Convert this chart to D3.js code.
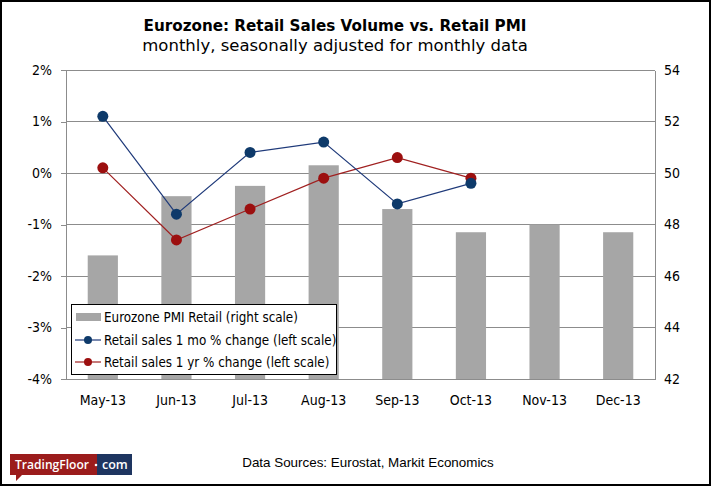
<!DOCTYPE html>
<html><head><meta charset="utf-8">
<script src="https://cdn.jsdelivr.net/npm/d3@7"></script>
<style>body{margin:0;background:#fff}svg{display:block}</style>
</head><body>
<script>
const categories = ["May-13","Jun-13","Jul-13","Aug-13","Sep-13","Oct-13","Nov-13","Dec-13"];
const pmiRetail = [46.8, 49.1, 49.5, 50.3, 48.6, 47.7, 48.0, 47.7];
const moChange = [1.1, -0.8, 0.4, 0.6, -0.6, -0.2, null, null];
const yrChange = [0.1, -1.3, -0.7, -0.1, 0.3, -0.1, null, null];
const leftTicks = [2, 1, 0, -1, -2, -3, -4];
const rightTicks = [54, 52, 50, 48, 46, 44, 42];
const legendLabels = ["Eurozone PMI Retail (right scale)", "Retail sales 1 mo % change (left scale)", "Retail sales 1 yr % change (left scale)"];

const W = 711, H = 486;
const L = 66, R = 655, T = 70, B = 379;
const font = "'DejaVu Sans Condensed', 'DejaVu Sans', sans-serif";
const wide = "'DejaVu Sans', sans-serif";
const svg = d3.select("body").append("svg").attr("width", W).attr("height", H);
svg.append("rect").attr("x",1).attr("y",1).attr("width",W-2).attr("height",H-2).attr("fill","#fff").attr("stroke","#000").attr("stroke-width",2);

const x = d3.scaleBand().domain(categories).range([L, R]).padding(0);
const yL = d3.scaleLinear().domain([-4, 2]).range([B, T]);
const yR = d3.scaleLinear().domain([42, 54]).range([B, T]);

// gridlines
svg.append("g").selectAll("line").data(leftTicks).join("line")
  .attr("x1", L).attr("x2", R).attr("y1", d => yL(d)).attr("y2", d => yL(d))
  .attr("stroke", "#8c8c8c").attr("stroke-width", 1).attr("shape-rendering","crispEdges");

// bars
const bw = x.bandwidth() * 0.41;
svg.append("g").selectAll("rect").data(pmiRetail).join("rect")
  .attr("x", (d, i) => x(categories[i]) + x.bandwidth()/2 - bw/2)
  .attr("width", bw)
  .attr("y", d => yR(d)).attr("height", d => B - yR(d))
  .attr("fill", "#a6a6a6");

// axes
const axL = svg.append("g").attr("transform", `translate(${L},0)`).call(d3.axisLeft(yL).tickValues(leftTicks).tickSize(5).tickPadding(9).tickFormat(d => d + "%"));
const axR = svg.append("g").attr("transform", `translate(${R},0)`).call(d3.axisRight(yR).tickValues(rightTicks).tickSize(0).tickPadding(9));
const axB = svg.append("g").attr("transform", `translate(0,${B})`).call(d3.axisBottom(x).tickSize(0).tickPadding(16));
[axL, axR, axB].forEach(a => {
  a.selectAll("path,line").attr("stroke", "#8c8c8c").attr("shape-rendering","crispEdges");
  a.selectAll("text").attr("font-family", font).attr("font-size", 14).attr("fill", "#000");
});
axL.select(".domain").attr("d", `M-5,${T}H0V${B}H-5`);

// lines
function drawSeries(vals, lineColor, dotColor) {
  const pts = vals.map((v, i) => ({v, c: categories[i]})).filter(p => p.v !== null);
  const line = d3.line().x(p => x(p.c) + x.bandwidth()/2).y(p => yL(p.v));
  svg.append("path").datum(pts).attr("d", line).attr("fill", "none").attr("stroke", lineColor).attr("stroke-width", 1.2);
  svg.append("g").selectAll("circle").data(pts).join("circle")
    .attr("cx", p => x(p.c) + x.bandwidth()/2).attr("cy", p => yL(p.v)).attr("r", 5.5).attr("fill", dotColor);
}
drawSeries(yrChange, "#a02020", "#9c0f0f");
drawSeries(moChange, "#1f3a7a", "#0e3a6a");

// legend
const lg = svg.append("g");
lg.append("rect").attr("x", 71.5).attr("y", 304.5).attr("width", 265).attr("height", 70).attr("fill", "#fff").attr("stroke", "#000");
const ly = [317, 340, 362];
lg.append("rect").attr("x", 76).attr("y", ly[0]-4).attr("width", 25).attr("height", 8).attr("fill", "#a6a6a6");
[["#1f3a7a","#0e3a6a"],["#a02020","#9c0f0f"]].forEach((c, i) => {
  lg.append("line").attr("x1", 75).attr("x2", 101).attr("y1", ly[i+1]).attr("y2", ly[i+1]).attr("stroke", c[0]).attr("stroke-width", 1.2);
  lg.append("circle").attr("cx", 88).attr("cy", ly[i+1]).attr("r", 4).attr("fill", c[1]);
});
legendLabels.forEach((t, i) => {
  lg.append("text").attr("x", 104).attr("y", ly[i]).attr("dy", "0.35em").attr("font-family", font).attr("font-size", 13.3).text(t);
});

// titles
svg.append("text").attr("x", 335).attr("y", 31).attr("text-anchor", "middle").attr("font-family", wide).attr("font-weight", "bold").attr("font-size", 15.2).text("Eurozone: Retail Sales Volume vs. Retail PMI");
svg.append("text").attr("x", 335).attr("y", 50.5).attr("text-anchor", "middle").attr("font-family", wide).attr("font-size", 16.5).text("monthly, seasonally adjusted for monthly data");

// source
svg.append("text").attr("x", 368).attr("y", 467).attr("text-anchor", "middle").attr("font-family", "'Liberation Sans', Arial, sans-serif").attr("font-size", 13.4).text("Data Sources: Eurostat, Markit Economics");

// logo
const logo = svg.append("g");
logo.append("path").attr("d", "M10,454 H97 V475 H22 L16,481 L16,475 H10 Z").attr("fill", "#9b1c1c");
logo.append("rect").attr("x", 97).attr("y", 454).attr("width", 35).attr("height", 21).attr("fill", "#1e3560");
logo.append("text").attr("x", 15).attr("y", 469).attr("font-family", "'Open Sans', sans-serif").attr("font-weight", 600).attr("font-size", 12.5).attr("fill", "#fff").attr("textLength", 74).attr("lengthAdjust","spacingAndGlyphs").text("TradingFloor");
logo.append("circle").attr("cx", 96).attr("cy", 465).attr("r", 1.3).attr("fill", "#fff");
logo.append("text").attr("x", 102).attr("y", 469).attr("font-family", "'Open Sans', sans-serif").attr("font-weight", 600).attr("font-size", 12.5).attr("fill", "#fff").text("com");
</script>
</body></html>
